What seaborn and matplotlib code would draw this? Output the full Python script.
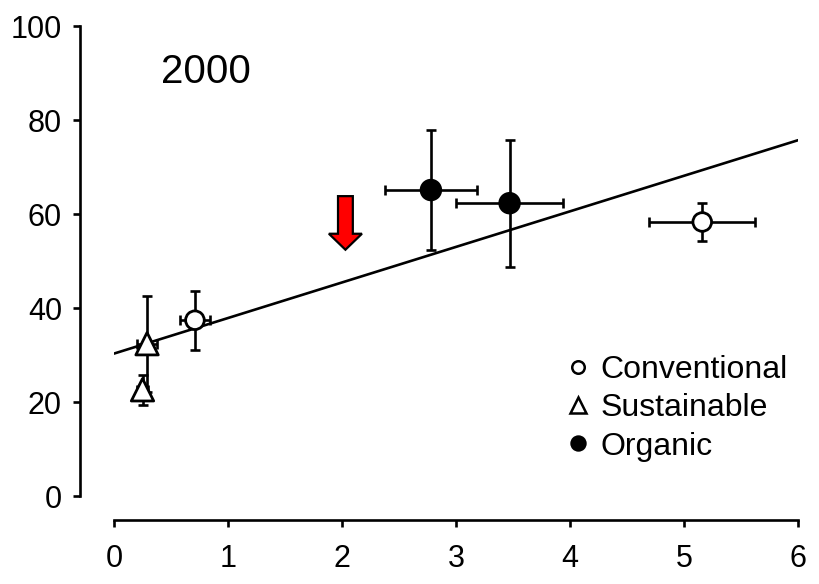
import matplotlib
matplotlib.use("Agg")
import matplotlib.pyplot as plt
from matplotlib.lines import Line2D
from matplotlib.patches import FancyArrow
import seaborn as sns
import pandas as pd

# ---- data ----
systems = ["Conventional", "Conventional", "Sustainable", "Sustainable", "Organic", "Organic"]
x_vals = [0.71, 5.16, 0.29, 0.25, 2.78, 3.47]
y_vals = [37.4, 58.3, 32.4, 22.6, 65.1, 62.3]
x_err = [0.13, 0.465, 0.09, 0.05, 0.40, 0.47]
y_err = [6.3, 4.1, 10.2, 3.2, 12.8, 13.5]
fit_x = [0.0, 6.0]
fit_y = [30.3, 75.7]
arrow_x = 2.03
arrow_top = 63.8
arrow_tip = 52.4
year_label = "2000"
x_ticks = [0, 1, 2, 3, 4, 5, 6]
y_ticks = [0, 20, 40, 60, 80, 100]

df = pd.DataFrame({"system": systems, "x": x_vals, "y": y_vals,
                   "xerr": x_err, "yerr": y_err})

sns.set_theme(style="ticks")
plt.rcParams["font.family"] = ["Liberation Sans", "DejaVu Sans"]
plt.rcParams["text.color"] = "black"

fig = plt.figure(figsize=(8.2, 5.84), dpi=100)
ax = fig.add_axes([114 / 820, 88 / 584, 684 / 820, 470 / 584])

# regression line
sns.lineplot(x=fit_x, y=fit_y, ax=ax, color="black", linewidth=1.9, zorder=2)

# error bars
ax.errorbar(df["x"], df["y"], xerr=df["xerr"], yerr=df["yerr"], fmt="none",
            ecolor="black", elinewidth=1.9, capsize=3.8, capthick=1.9, zorder=3)

# markers
markers = {"Conventional": "o", "Sustainable": "^", "Organic": "o"}
palette = {"Conventional": "white", "Sustainable": "white", "Organic": "black"}
sizes = {"Conventional": 180, "Sustainable": 260, "Organic": 200}
sns.scatterplot(data=df, x="x", y="y", hue="system", style="system",
                size="system", sizes=sizes,
                markers=markers, palette=palette, edgecolor="black",
                linewidth=2.0, legend=False, ax=ax, zorder=4)

# red arrow
ax.add_patch(FancyArrow(arrow_x, arrow_top, 0, arrow_tip - arrow_top,
                        width=0.13, head_width=0.29, head_length=3.4,
                        length_includes_head=True, facecolor="#ff0000",
                        edgecolor="black", linewidth=1.6, zorder=5))

ax.text(0.41, 90.2, year_label, fontsize=29, ha="left", va="center", color="black")

ax.set_xlim(0, 6)
ax.set_ylim(0, 100)
ax.set_xticks(x_ticks)
ax.set_yticks(y_ticks)
ax.tick_params(labelsize=22, width=1.9, length=5, colors="black")
ax.tick_params(axis="y", pad=8)
ax.tick_params(axis="x", pad=12)
ax.set_xlabel("")
ax.set_ylabel("")
for s in ["left", "bottom"]:
    ax.spines[s].set_linewidth(1.9)
    ax.spines[s].set_color("black")
sns.despine(ax=ax, offset={"left": 24.5, "bottom": 17.3})

handles = [
    Line2D([], [], marker="o", linestyle="none", markerfacecolor="white",
           markeredgecolor="black", markeredgewidth=1.8, markersize=9),
    Line2D([], [], marker="^", linestyle="none", markerfacecolor="white",
           markeredgecolor="black", markeredgewidth=1.8, markersize=11),
    Line2D([], [], marker="o", linestyle="none", markerfacecolor="black",
           markeredgecolor="black", markeredgewidth=1.8, markersize=10),
]
leg = ax.legend(handles, ["Conventional", "Sustainable", "Organic"], frameon=False,
                fontsize=23, loc="upper left", bbox_to_anchor=(0.662, 0.30),
                handlelength=0.7, handletextpad=0.35, labelspacing=0.26,
                borderaxespad=0, borderpad=0)
for t in leg.get_texts():
    t.set_color("black")

fig.savefig("out.png", dpi=100)
